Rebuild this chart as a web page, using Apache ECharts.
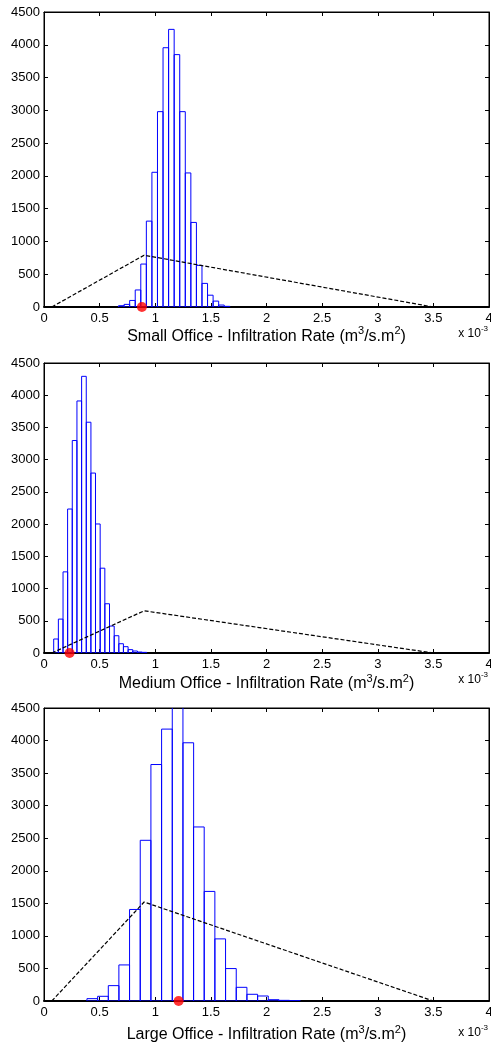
<!DOCTYPE html>
<html>
<head>
<meta charset="utf-8">
<script src="https://cdn.jsdelivr.net/npm/echarts@6/dist/echarts.min.js"></script>
<style>
  html, body { margin: 0; padding: 0; background: #ffffff; }
  #chart { width: 491px; height: 1046px; }
</style>
</head>
<body>
<div id="chart"></div>
<script>
// Infiltration rate distributions (units of 1e-3 m3/s.m2) for three office types.

// Small office: histogram bin centres, bin width and counts
const smallBinCenters = [0.695, 0.745, 0.795, 0.845, 0.895, 0.945, 0.995, 1.045, 1.095, 1.145,
                         1.195, 1.245, 1.295, 1.345, 1.395, 1.445, 1.495, 1.545, 1.595, 1.645];
const smallBinWidth = 0.05;
const smallCounts = [20, 40, 100, 260, 655, 1310, 2055, 2980, 3955, 4235,
                     3850, 2980, 2045, 1290, 635, 360, 180, 90, 30, 10];
// Triangular prior (start, mode, end) and the nominal value
const smallPrior = [[0.07, 0], [0.9, 790], [3.5, 0]];
const smallNominal = [0.88, 0];

// Medium office
const mediumBinCenters = [0.108, 0.150, 0.192, 0.233, 0.275, 0.317, 0.359, 0.401, 0.442, 0.484,
                          0.526, 0.568, 0.610, 0.652, 0.693, 0.735, 0.777, 0.819, 0.861, 0.902];
const mediumBinWidth = 0.0418;
const mediumCounts = [217, 526, 1259, 2234, 3297, 3911, 4293, 3581, 2792, 2002,
                      1316, 764, 418, 268, 144, 98, 52, 31, 15, 10];
const mediumPrior = [[0.07, 0], [0.9, 655], [3.5, 0]];
const mediumNominal = [0.23, 0];

// Large office
const largeBinCenters = [0.434, 0.530, 0.626, 0.721, 0.817, 0.913, 1.009, 1.105, 1.201, 1.297,
                         1.392, 1.488, 1.584, 1.680, 1.776, 1.872, 1.968, 2.064, 2.159, 2.255];
const largeBinWidth = 0.0959;
const largeCounts = [36, 72, 236, 554, 1406, 2468, 3632, 4176, 4540, 3966,
                     2673, 1683, 954, 498, 210, 103, 77, 20, 10, 5];
const largePrior = [[0.07, 0], [0.9, 1520], [3.5, 0]];
const largeNominal = [1.21, 0];

// Axis ranges
const xMin = 0, xMax = 4, xStep = 0.5;
const yMin = 0, yMax = 4500, yStep = 500;

const titles = [
  'Small Office - Infiltration Rate',
  'Medium Office - Infiltration Rate',
  'Large Office - Infiltration Rate'
];

const FONT = '"Liberation Sans", Arial, Helvetica, sans-serif';
const BLACK = '#000000';

const panels = [
  { centers: smallBinCenters, width: smallBinWidth, counts: smallCounts, prior: smallPrior, nominal: smallNominal },
  { centers: mediumBinCenters, width: mediumBinWidth, counts: mediumCounts, prior: mediumPrior, nominal: mediumNominal },
  { centers: largeBinCenters, width: largeBinWidth, counts: largeCounts, prior: largePrior, nominal: largeNominal }
];

// Plot box layout for each subplot
const boxes = [
  { top: 12, height: 295, nameGap: 16, expY: 27 },
  { top: 363, height: 290, nameGap: 20, expY: 27 },
  { top: 708, height: 293, nameGap: 23, expY: 32 }
];

const grid = [], xAxis = [], yAxis = [], series = [], graphic = [];

function renderBin(params, api) {
  const c = api.value(0), w = api.value(1), n = api.value(2);
  const p0 = api.coord([c - w / 2, 0]);
  const p1 = api.coord([c + w / 2, n]);
  const cs = params.coordSys;
  const shape = echarts.graphic.clipRectByRect(
    { x: p0[0], y: p1[1], width: p1[0] - p0[0], height: p0[1] - p1[1] },
    { x: cs.x, y: cs.y - 1, width: cs.width, height: cs.height + 1 }
  );
  if (!shape) return null;
  return {
    type: 'rect',
    shape: shape,
    style: { fill: 'rgba(0,0,0,0)', stroke: '#0000ff', lineWidth: 1 }
  };
}

function plainNumber(v) { return String(v); }

boxes.forEach(function (b, i) {
  const p = panels[i];
  grid.push({
    left: 44, width: 445, top: b.top, height: b.height,
    outerBoundsMode: 'none', containLabel: false,
    show: true, borderColor: BLACK, borderWidth: 1, backgroundColor: '#ffffff'
  });

  // bottom axis with labels and name
  xAxis.push({
    type: 'value', gridIndex: i, min: xMin, max: xMax, interval: xStep,
    position: 'bottom',
    axisLine: { show: true, onZero: false, lineStyle: { color: BLACK, width: 2 } },
    axisTick: { show: true, inside: true, length: 4, lineStyle: { color: BLACK, width: 1 } },
    axisLabel: { show: true, color: BLACK, fontSize: 13, fontFamily: FONT, margin: 5,
                 showMinLabel: true, showMaxLabel: true, hideOverlap: false,
                 formatter: plainNumber },
    splitLine: { show: false },
    name: '{t|' + titles[i] + ' (m}{s|3}{t|/s.m}{s|2}{t|)}',
    nameLocation: 'middle',
    nameGap: b.nameGap,
    nameTextStyle: {
      color: BLACK, fontFamily: FONT, fontSize: 16,
      rich: {
        t: { fontSize: 16, fontFamily: FONT, color: BLACK, lineHeight: 22 },
        s: { fontSize: 11, fontFamily: FONT, color: BLACK, lineHeight: 11, verticalAlign: 'top' }
      }
    }
  });
  // top axis: inward ticks only
  xAxis.push({
    type: 'value', gridIndex: i, min: xMin, max: xMax, interval: xStep,
    position: 'top',
    axisLine: { show: true, onZero: false, lineStyle: { color: BLACK, width: 1 } },
    axisTick: { show: true, inside: true, length: 4, lineStyle: { color: BLACK, width: 1 } },
    axisLabel: { show: false },
    splitLine: { show: false }
  });

  yAxis.push({
    type: 'value', gridIndex: i, min: yMin, max: yMax, interval: yStep,
    position: 'left',
    axisLine: { show: true, onZero: false, lineStyle: { color: BLACK, width: 1 } },
    axisTick: { show: true, inside: true, length: 4, lineStyle: { color: BLACK, width: 1 } },
    axisLabel: { show: true, color: BLACK, fontSize: 13, fontFamily: FONT, margin: 4,
                 showMinLabel: true, showMaxLabel: true, formatter: plainNumber },
    splitLine: { show: false }
  });
  yAxis.push({
    type: 'value', gridIndex: i, min: yMin, max: yMax, interval: yStep,
    position: 'right',
    axisLine: { show: true, onZero: false, lineStyle: { color: BLACK, width: 1 } },
    axisTick: { show: true, inside: true, length: 4, lineStyle: { color: BLACK, width: 1 } },
    axisLabel: { show: false },
    splitLine: { show: false }
  });

  const xi = i * 2, yi = i * 2;

  series.push({
    type: 'custom',
    xAxisIndex: xi, yAxisIndex: yi,
    renderItem: renderBin,
    clip: true,
    silent: true,
    z: 3,
    data: p.centers.map(function (c, k) { return [c, p.width, p.counts[k]]; })
  });

  series.push({
    type: 'line',
    xAxisIndex: xi, yAxisIndex: yi,
    data: p.prior,
    symbol: 'none',
    silent: true,
    z: 4,
    lineStyle: { color: BLACK, width: 1.2, type: [4, 2] }
  });

  series.push({
    type: 'scatter',
    xAxisIndex: xi, yAxisIndex: yi,
    data: [p.nominal],
    symbol: 'circle',
    symbolSize: 10,
    clip: false,
    silent: true,
    z: 6,
    itemStyle: { color: '#ff0000' }
  });

  // axis exponent label
  graphic.push({
    type: 'text',
    right: 3,
    top: b.top + b.height + b.expY - 9,
    style: {
      text: '{a|x 10}{b|-3}',
      fill: BLACK,
      rich: {
        a: { fontSize: 12, fontFamily: FONT, fill: BLACK, lineHeight: 18 },
        b: { fontSize: 8, fontFamily: FONT, fill: BLACK, lineHeight: 8, verticalAlign: 'top' }
      }
    }
  });
});

const chart = echarts.init(document.getElementById('chart'), null, { renderer: 'canvas' });
chart.setOption({
  animation: false,
  backgroundColor: '#ffffff',
  grid: grid,
  xAxis: xAxis,
  yAxis: yAxis,
  series: series,
  graphic: graphic
});
</script>
</body>
</html>
